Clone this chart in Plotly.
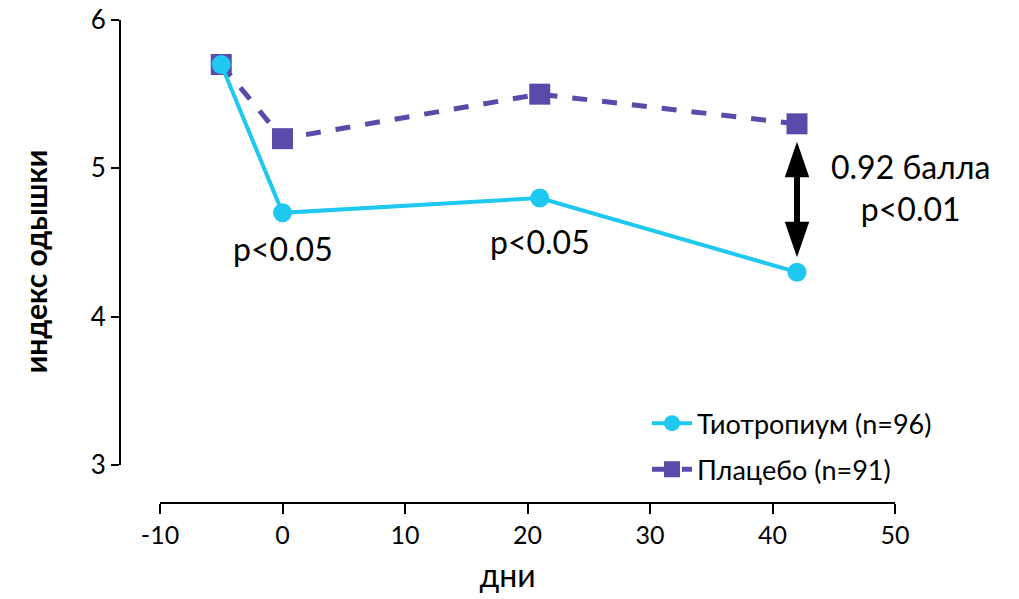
import plotly.graph_objects as go

# Study days and mean dyspnoea index per group
days = [-5, 0, 21, 42]
tiotropium = [5.7, 4.7, 4.8, 4.3]
placebo = [5.7, 5.2, 5.5, 5.3]

x_ticks = [-10, 0, 10, 20, 30, 40, 50]
x_tick_text = ["-10", "0", "10", "20", "30", "40", "50"]
y_ticks = [3, 4, 5, 6]

tio_name = "Тиотропиум (n=96)"
plac_name = "Плацебо (n=91)"
p_labels = ["p<0.05", "p<0.05"]
diff_label = "0.92 балла<br>p<0.01"

TIO_COLOR = "#1EC8F0"
PLAC_COLOR = "#5A4BAA"
FONT = "Lato, Open Sans, sans-serif"

# Plot area spans a bit beyond the axis ranges so the axis lines sit apart
X_MIN, X_MAX = -10, 50
Y_MIN, Y_MAX = 3, 6
x_pad = 40 / 12.25
y_pad = 38 / 148.3

fig = go.Figure()

fig.add_trace(go.Scatter(
    x=days, y=placebo, name=plac_name, mode="lines+markers",
    legendgroup="plac", legendrank=2,
    line=dict(color=PLAC_COLOR, width=5, dash="dash"),
    marker=dict(symbol="square", size=21, color=PLAC_COLOR),
    cliponaxis=False,
))
fig.add_trace(go.Scatter(
    x=days, y=tiotropium, name=tio_name, mode="lines+markers",
    legendgroup="tio", legendrank=1,
    line=dict(color=TIO_COLOR, width=4),
    marker=dict(symbol="circle", size=19, color=TIO_COLOR),
    cliponaxis=False,
))

shapes = [
    # detached axis lines
    dict(type="line", xref="x", yref="paper", x0=X_MIN, x1=X_MAX, y0=0, y1=0,
         line=dict(color="black", width=2)),
    dict(type="line", xref="paper", yref="y", x0=0, x1=0, y0=Y_MIN, y1=Y_MAX,
         line=dict(color="black", width=2)),
]

# Double-headed arrow between the two groups on the last day
xa = days[-1]
top = placebo[-1] - 0.12
bot = tiotropium[-1] + 0.10
head_h = 0.24
head_w = 1.0
shapes.append(dict(type="line", xref="x", yref="y", x0=xa, x1=xa,
                   y0=bot + head_h * 0.9, y1=top - head_h * 0.9,
                   line=dict(color="black", width=6)))
shapes.append(dict(type="path", xref="x", yref="y",
                   path=f"M {xa} {top} L {xa - head_w} {top - head_h} L {xa + head_w} {top - head_h} Z",
                   fillcolor="black", line=dict(width=0)))
shapes.append(dict(type="path", xref="x", yref="y",
                   path=f"M {xa} {bot} L {xa - head_w} {bot + head_h} L {xa + head_w} {bot + head_h} Z",
                   fillcolor="black", line=dict(width=0)))

annotations = [
    dict(x=days[1], y=tiotropium[1] - 0.24, text=p_labels[0], showarrow=False,
         xanchor="center", yanchor="middle", font=dict(size=32, color="black", family=FONT)),
    dict(x=days[2], y=tiotropium[2] - 0.29, text=p_labels[1], showarrow=False,
         xanchor="center", yanchor="middle", font=dict(size=32, color="black", family=FONT)),
    dict(xref="paper", x=(910 - 120) / 775, y=(placebo[-1] + tiotropium[-1]) / 2 + 0.07,
         text=diff_label, showarrow=False, xanchor="center", yanchor="middle",
         font=dict(size=32, color="black", family=FONT)),
]

fig.update_layout(
    width=1019, height=599,
    margin=dict(l=120, r=124, t=20, b=96),
    paper_bgcolor="white", plot_bgcolor="white",
    font=dict(family=FONT, color="black"),
    showlegend=True,
    legend=dict(x=0.68, y=0.215, xanchor="left", yanchor="top",
                traceorder="grouped", font=dict(size=27, family=FONT),
                bgcolor="rgba(0,0,0,0)", itemwidth=40, tracegroupgap=8),
    shapes=shapes,
    annotations=annotations,
    xaxis=dict(range=[X_MIN - x_pad, X_MAX], tickvals=x_ticks, ticktext=x_tick_text,
               ticks="outside", ticklen=10, tickwidth=2, tickcolor="black",
               showline=False, showgrid=False, zeroline=False, tickfont=dict(size=25),
               automargin=False,
               title=dict(text="дни", font=dict(size=32), standoff=16)),
    yaxis=dict(range=[Y_MIN - y_pad, Y_MAX], tickvals=y_ticks, ticks="outside",
               ticklen=8, tickwidth=2, tickcolor="black", showline=False,
               showgrid=False, zeroline=False, tickfont=dict(size=26),
               automargin=False,
               title=dict(text="<b>индекс одышки</b>", font=dict(size=30), standoff=34)),
)

fig.write_html("out.html")
